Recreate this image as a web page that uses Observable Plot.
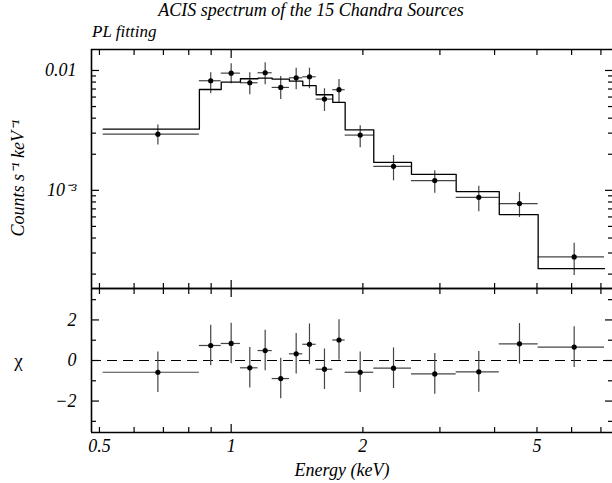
<!DOCTYPE html>
<html>
<head>
<meta charset="utf-8">
<script src="https://cdn.jsdelivr.net/npm/d3@7"></script>
<script src="https://cdn.jsdelivr.net/npm/@observablehq/plot@0.6"></script>
<style>
  html, body { margin: 0; padding: 0; background: white; }
  #wrap { position: relative; width: 612px; height: 483px; overflow: hidden; background: white;
          font-family: 'Liberation Serif', 'Times New Roman', serif; font-style: italic; }
  #title { position: absolute; left: 0; width: 622px; top: 0px; text-align: center; font-size: 18px; line-height: 20px; }
  #subtitle { position: absolute; left: 92px; top: 22px; font-size: 17px; line-height: 20px; }
  .panel { position: absolute; left: 0; }
  svg { overflow: visible; }
</style>
</head>
<body>
<div id="wrap">
  <div id="title">ACIS spectrum of the 15 Chandra Sources</div>
  <div id="subtitle">PL fitting</div>
  <div id="topPanel" class="panel" style="top:0px"></div>
  <div id="bottomPanel" class="panel" style="top:284px"></div>
</div>
<script>
// ---- data ----
const binLo = [0.510, 0.846, 0.949, 1.050, 1.152, 1.241, 1.359, 1.458, 1.564, 1.707, 1.822, 2.118, 2.583, 3.268, 4.100, 5.031];
const binHi = [0.846, 0.949, 1.050, 1.152, 1.241, 1.359, 1.458, 1.564, 1.707, 1.822, 2.118, 2.583, 3.268, 4.100, 5.031, 7.134];
const energy = [0.680, 0.898, 1.000, 1.103, 1.196, 1.298, 1.408, 1.510, 1.634, 1.764, 1.972, 2.350, 2.920, 3.681, 4.560, 6.081];
const counts = [2.94e-3, 8.21e-3, 9.50e-3, 7.90e-3, 9.57e-3, 7.22e-3, 8.69e-3, 8.86e-3, 5.77e-3, 6.91e-3, 2.89e-3, 1.585e-3, 1.205e-3, 8.74e-4, 7.75e-4, 2.78e-4];
const countsLo = [2.39e-3, 6.40e-3, 7.75e-3, 6.27e-3, 7.60e-3, 5.73e-3, 6.90e-3, 7.04e-3, 4.55e-3, 5.41e-3, 2.27e-3, 1.20e-3, 9.44e-4, 6.62e-4, 5.94e-4, 1.95e-4];
const countsHi = [3.50e-3, 9.57e-3, 1.137e-2, 9.57e-3, 1.159e-2, 8.91e-3, 1.045e-2, 1.045e-2, 7.04e-3, 8.41e-3, 3.46e-3, 1.95e-3, 1.46e-3, 1.08e-3, 9.57e-4, 3.61e-4];
const model = [3.24e-3, 6.94e-3, 7.99e-3, 8.53e-3, 8.63e-3, 8.46e-3, 8.14e-3, 7.46e-3, 6.27e-3, 5.41e-3, 3.20e-3, 1.71e-3, 1.36e-3, 9.77e-4, 6.28e-4, 2.22e-4];
const residual = [-0.58, 0.74, 0.84, -0.36, 0.49, -0.89, 0.33, 0.80, -0.43, 1.01, -0.58, -0.38, -0.66, -0.56, 0.82, 0.66];
const residualErr = [1, 1, 1, 1, 1, 1, 1, 1, 1, 1, 1, 1, 1, 1, 1, 1];

const xDomain = [0.4795, 7.44];
const yDomain = [1.517e-4, 0.01496];
const chiDomain = [-3.55, 3.55];

const xMajorTicks = [1];
const xMinorTicks = [0.5, 0.6, 0.7, 0.8, 0.9, 2, 3, 4, 5, 6, 7];
const xTickValues = [0.5, 1, 2, 5];
const xTickLabels = ["0.5", "1", "2", "5"];
const yMajorTicks = [0.001, 0.01];
const yMinorTicks = [2e-4, 3e-4, 4e-4, 5e-4, 6e-4, 7e-4, 8e-4, 9e-4, 2e-3, 3e-3, 4e-3, 5e-3, 6e-3, 7e-3, 8e-3, 9e-3];
const yTickValues = [0.001, 0.01];
const yTickLabels = ["10\u207B\u00B3", "0.01"];
const chiMajorTicks = [-2, 0, 2];
const chiMinorTicks = [-3, -1, 1, 3];
const chiTickValues = [-2, 0, 2];
const chiTickLabels = ["\u22122", "0", "2"];

// ---- derived tables ----
const rows = energy.map((e, i) => ({
  e, lo: binLo[i], hi: binHi[i], c: counts[i], cLo: countsLo[i], cHi: countsHi[i],
  m: model[i], r: residual[i], rLo: residual[i] - residualErr[i], rHi: residual[i] + residualErr[i]
}));
const modelSteps = rows.flatMap(d => [{x: d.lo, y: d.m}, {x: d.hi, y: d.m}]);

const fontFamily = "'Liberation Serif', 'Times New Roman', serif";
const MAJ = 8, MIN = 5, TW = 1.2, FW = 1.6;
const errColor = "#444";
const FS = "18px";

function ticksX(anchor, ticks, size) {
  return Plot.axisX({anchor, ticks, tickSize: size, tickFormat: () => "", label: null,
                     strokeWidth: TW, dy: anchor === "top" ? size : -size});
}
function ticksY(anchor, ticks, size) {
  return Plot.axisY({anchor, ticks, tickSize: size, tickFormat: () => "", label: null,
                     strokeWidth: TW, dx: anchor === "left" ? size : -size});
}

const baseStyle = {fontFamily, fontStyle: "italic", fontSize: FS, background: "transparent", color: "black", overflow: "visible"};

// ---- top panel ----
const topChart = Plot.plot({
  width: 612, height: 292, marginTop: 49, marginBottom: 4, marginLeft: 91, marginRight: 0,
  style: baseStyle,
  x: {type: "log", domain: xDomain},
  y: {type: "log", domain: yDomain},
  marks: [
    Plot.ruleY([yDomain[1]], {stroke: "black", strokeWidth: FW}),
    Plot.ruleY([yDomain[0]], {stroke: "black", strokeWidth: FW}),
    Plot.ruleX([xDomain[0]], {stroke: "black", strokeWidth: FW}),
    ticksX("top", xMajorTicks, MAJ), ticksX("top", xMinorTicks, MIN),
    ticksX("bottom", xMajorTicks, MAJ), ticksX("bottom", xMinorTicks, MIN),
    ticksY("left", yMajorTicks, MAJ), ticksY("left", yMinorTicks, MIN),
    ticksY("right", yMajorTicks, MAJ), ticksY("right", yMinorTicks, MIN),
    Plot.axisY({anchor: "left", ticks: yTickValues, tickSize: 0, tickPadding: 15, label: null,
                tickFormat: d => yTickLabels[yTickValues.indexOf(d)], fontSize: FS}),
    Plot.text(["Counts s\u207B\u00B9 keV\u207B\u00B9"], {frameAnchor: "left", text: d => d, rotate: -90,
                dx: -73, dy: 9, fontSize: FS, lineAnchor: "middle", textAnchor: "middle"}),
    Plot.ruleX(rows, {x: "e", y1: "cLo", y2: "cHi", stroke: errColor, strokeWidth: 1.2}),
    Plot.ruleY(rows, {y: "c", x1: "lo", x2: "hi", stroke: errColor, strokeWidth: 1.2}),
    Plot.line(modelSteps, {x: "x", y: "y", stroke: "black", strokeWidth: 1.3}),
    Plot.dot(rows, {x: "e", y: "c", r: 2.6, fill: "black", stroke: "none"})
  ]
});
document.getElementById("topPanel").appendChild(topChart);

// ---- bottom panel ----
const bottomChart = Plot.plot({
  width: 612, height: 199, marginTop: 4, marginBottom: 51, marginLeft: 91, marginRight: 0,
  style: baseStyle,
  x: {type: "log", domain: xDomain},
  y: {domain: chiDomain},
  marks: [
    Plot.ruleY([chiDomain[1]], {stroke: "black", strokeWidth: FW}),
    Plot.ruleY([chiDomain[0]], {stroke: "black", strokeWidth: FW}),
    Plot.ruleX([xDomain[0]], {stroke: "black", strokeWidth: FW}),
    ticksX("top", xMajorTicks, MAJ), ticksX("top", xMinorTicks, MIN),
    ticksX("bottom", xMajorTicks, MAJ), ticksX("bottom", xMinorTicks, MIN),
    ticksY("left", chiMajorTicks, MAJ), ticksY("left", chiMinorTicks, MIN),
    ticksY("right", chiMajorTicks, MAJ), ticksY("right", chiMinorTicks, MIN),
    Plot.axisY({anchor: "left", ticks: chiTickValues, tickSize: 0, tickPadding: 15, label: null,
                tickFormat: d => chiTickLabels[chiTickValues.indexOf(d)], fontSize: FS}),
    Plot.axisX({anchor: "bottom", ticks: xTickValues, tickSize: 0, tickPadding: 7, label: null,
                tickFormat: d => xTickLabels[xTickValues.indexOf(d)], fontSize: FS}),
    Plot.text(["Energy (keV)"], {frameAnchor: "bottom", text: d => d, dx: -10, dy: 38, fontSize: FS, lineAnchor: "middle", textAnchor: "middle"}),
    Plot.text(["\u03C7"], {frameAnchor: "left", text: d => d, dx: -73, dy: 0, fontSize: "19px", lineAnchor: "middle", textAnchor: "middle", fontStyle: "normal"}),
    Plot.ruleY([0], {stroke: "black", strokeWidth: 1.2, strokeDasharray: "10,6"}),
    Plot.ruleX(rows, {x: "e", y1: "rLo", y2: "rHi", stroke: errColor, strokeWidth: 1.2}),
    Plot.ruleY(rows, {y: "r", x1: "lo", x2: "hi", stroke: errColor, strokeWidth: 1.2}),
    Plot.dot(rows, {x: "e", y: "r", r: 2.6, fill: "black", stroke: "none"})
  ]
});
document.getElementById("bottomPanel").appendChild(bottomChart);
</script>
</body>
</html>
